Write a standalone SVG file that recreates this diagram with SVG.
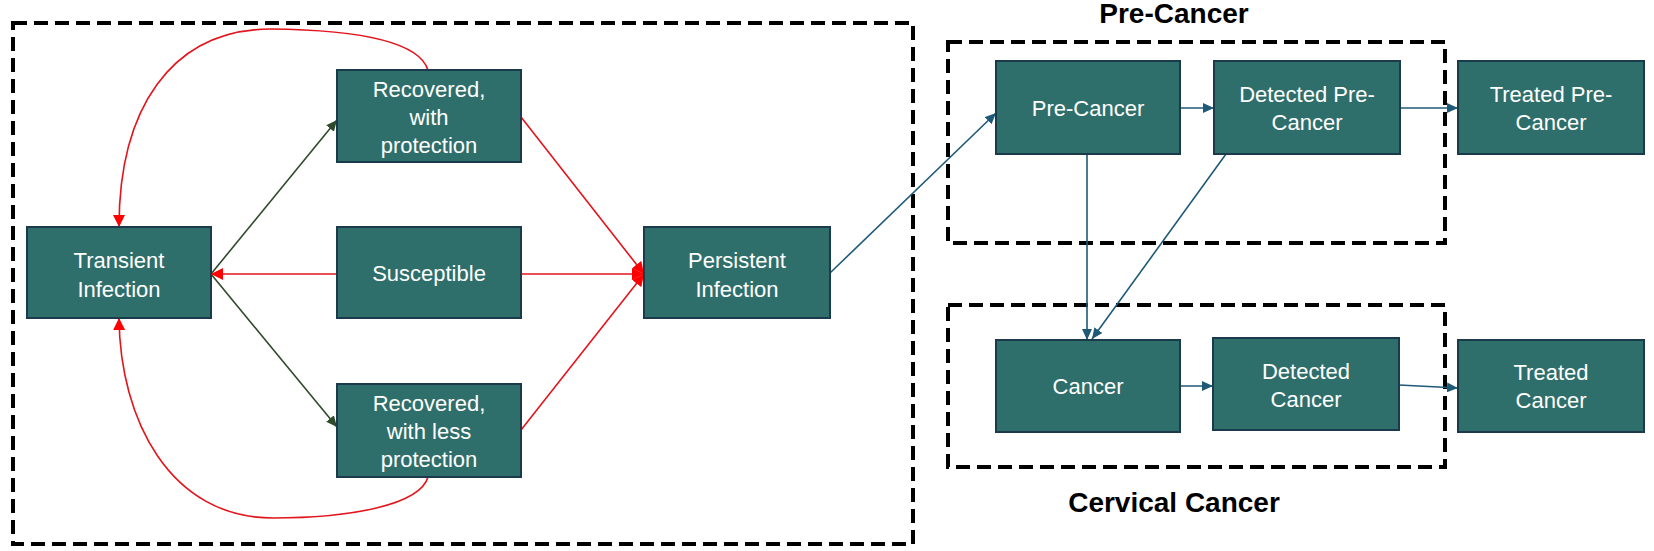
<svg xmlns="http://www.w3.org/2000/svg" width="1654" height="551" viewBox="0 0 1654 551">
<style>
.node rect{fill:#2f6f6b;stroke:#1b3a4b;stroke-width:2}
.node text{fill:#ffffff;font-family:"Liberation Sans",Arial,sans-serif;font-size:22px;text-anchor:middle}
.group{fill:none;stroke:#000;stroke-width:4;stroke-dasharray:14 7}
.title{fill:#000;font-family:"Liberation Sans",Arial,sans-serif;font-size:28px;font-weight:bold;text-anchor:middle}
.red{fill:none;stroke:#e3141b;stroke-width:1.6}
.green{fill:none;stroke:#2f4a2a;stroke-width:1.6}
.blue{fill:none;stroke:#1e5a78;stroke-width:1.6}
</style>
<defs>
<marker id="ar" viewBox="0 0 12 12" refX="12" refY="6" markerWidth="12" markerHeight="12" markerUnits="userSpaceOnUse" orient="auto"><path d="M0,0 L12,6 L0,12 z" fill="#ff0000"/></marker>
<marker id="ag" viewBox="0 0 11 10" refX="11" refY="5" markerWidth="11" markerHeight="10" markerUnits="userSpaceOnUse" orient="auto"><path d="M0,0 L11,5 L0,10 z" fill="#2f4a2a"/></marker>
<marker id="ab" viewBox="0 0 11 10" refX="11" refY="5" markerWidth="11" markerHeight="10" markerUnits="userSpaceOnUse" orient="auto"><path d="M0,0 L11,5 L0,10 z" fill="#1e5a78"/></marker>
</defs>
<rect width="1654" height="551" fill="#ffffff"/>

<g id="groups">
<rect class="group" x="13" y="23" width="900" height="521"/>
<rect class="group" x="948" y="42" width="497" height="201"/>
<rect class="group" x="948" y="305" width="497" height="162"/>
<text class="title" x="1174" y="23">Pre-Cancer</text>
<text class="title" x="1174" y="512">Cervical Cancer</text>
</g>

<g id="connectors">
<path class="green" d="M211,274 L337,120" marker-end="url(#ag)"/>
<path class="green" d="M211,274 L337,427" marker-end="url(#ag)"/>
<path class="red" d="M337,274 L211,274" marker-end="url(#ar)"/>
<path class="red" d="M521,274 L644,274" marker-end="url(#ar)"/>
<path class="red" d="M521,117 L644,274" marker-end="url(#ar)"/>
<path class="red" d="M521,430 L644,274" marker-end="url(#ar)"/>
<path class="red" d="M428,70 C420,45 370,30 270,29 C170,30 119,110 119,227" marker-end="url(#ar)"/>
<path class="red" d="M428,477 C420,505 350,518 273,518 C170,518 120,420 119,318" marker-end="url(#ar)"/>
<path class="blue" d="M830,273 L996,113" marker-end="url(#ab)"/>
<path class="blue" d="M1180,108 L1214,108" marker-end="url(#ab)"/>
<path class="blue" d="M1400,108 L1458,108" marker-end="url(#ab)"/>
<path class="blue" d="M1087,154 L1087,340" marker-end="url(#ab)"/>
<path class="blue" d="M1226,154 L1092,339" marker-end="url(#ab)"/>
<path class="blue" d="M1172,386 L1213,386" marker-end="url(#ab)"/>
<path class="blue" d="M1399,385 L1458,388" marker-end="url(#ab)"/>
</g>

<g id="transient" class="node"><rect x="27" y="227" width="184" height="91"/><text x="119" y="268">Transient</text><text x="119" y="297">Infection</text></g>
<g id="recovered-protection" class="node"><rect x="337" y="70" width="184" height="92"/><text x="429" y="97">Recovered,</text><text x="429" y="125">with</text><text x="429" y="153">protection</text></g>
<g id="susceptible" class="node"><rect x="337" y="227" width="184" height="91"/><text x="429" y="281">Susceptible</text></g>
<g id="recovered-less" class="node"><rect x="337" y="384" width="184" height="93"/><text x="429" y="411">Recovered,</text><text x="429" y="439">with less</text><text x="429" y="467">protection</text></g>
<g id="persistent" class="node"><rect x="644" y="227" width="186" height="91"/><text x="737" y="268">Persistent</text><text x="737" y="297">Infection</text></g>
<g id="pre-cancer" class="node"><rect x="996" y="61" width="184" height="93"/><text x="1088" y="116">Pre-Cancer</text></g>
<g id="detected-pre-cancer" class="node"><rect x="1214" y="61" width="186" height="93"/><text x="1307" y="102">Detected Pre-</text><text x="1307" y="130">Cancer</text></g>
<g id="treated-pre-cancer" class="node"><rect x="1458" y="61" width="186" height="93"/><text x="1551" y="102">Treated Pre-</text><text x="1551" y="130">Cancer</text></g>
<g id="cancer" class="node"><rect x="996" y="340" width="184" height="92"/><text x="1088" y="394">Cancer</text></g>
<g id="detected-cancer" class="node"><rect x="1213" y="338" width="186" height="92"/><text x="1306" y="379">Detected</text><text x="1306" y="407">Cancer</text></g>
<g id="treated-cancer" class="node"><rect x="1458" y="340" width="186" height="92"/><text x="1551" y="380">Treated</text><text x="1551" y="408">Cancer</text></g>
</svg>
